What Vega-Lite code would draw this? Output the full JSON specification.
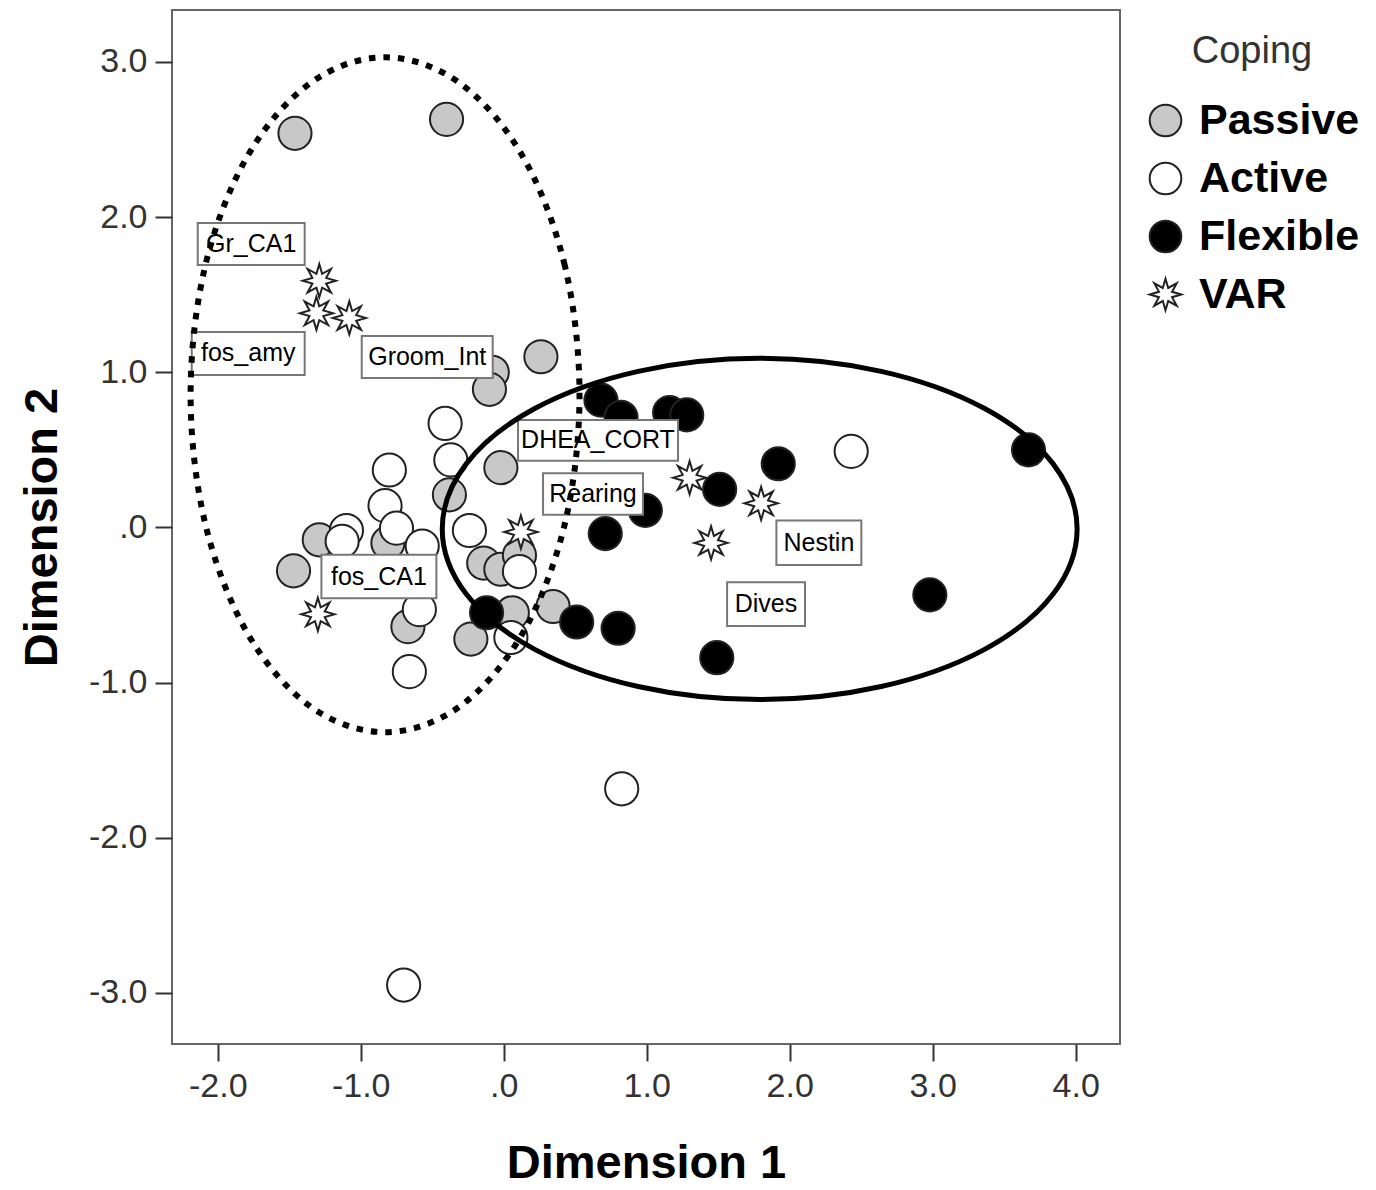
{
  "$schema": "https://vega.github.io/schema/vega-lite/v6.json",
  "width": 948,
  "height": 1034,
  "autosize": {"type": "none"},
  "padding": {"left": 172, "top": 10, "right": 256, "bottom": 146},
  "background": "white",
  "config": {
    "font": "Liberation Sans",
    "view": {"stroke": "#666", "strokeWidth": 2}
  },
  "datasets": {
    "pts": [
      {"x": -1.46, "y": 2.54, "c": "Passive"},
      {"x": -0.40, "y": 2.63, "c": "Passive"},
      {"x": 0.26, "y": 1.10, "c": "Passive"},
      {"x": -0.08, "y": 1.00, "c": "Passive"},
      {"x": -0.10, "y": 0.89, "c": "Passive"},
      {"x": -0.02, "y": 0.385, "c": "Passive"},
      {"x": -0.38, "y": 0.21, "c": "Passive"},
      {"x": -1.29, "y": -0.08, "c": "Passive"},
      {"x": -0.81, "y": -0.10, "c": "Passive"},
      {"x": -1.47, "y": -0.28, "c": "Passive"},
      {"x": -0.14, "y": -0.23, "c": "Passive"},
      {"x": -0.02, "y": -0.27, "c": "Passive"},
      {"x": 0.11, "y": -0.18, "c": "Passive"},
      {"x": 0.345, "y": -0.51, "c": "Passive"},
      {"x": 0.06, "y": -0.55, "c": "Passive"},
      {"x": -0.23, "y": -0.72, "c": "Passive"},
      {"x": -0.67, "y": -0.64, "c": "Passive"},
      {"x": -0.41, "y": 0.67, "c": "Active"},
      {"x": -0.37, "y": 0.435, "c": "Active"},
      {"x": -0.80, "y": 0.37, "c": "Active"},
      {"x": -0.83, "y": 0.14, "c": "Active"},
      {"x": -1.10, "y": -0.02, "c": "Active"},
      {"x": -1.13, "y": -0.09, "c": "Active"},
      {"x": -0.75, "y": -0.005, "c": "Active"},
      {"x": -0.57, "y": -0.12, "c": "Active"},
      {"x": -0.24, "y": -0.02, "c": "Active"},
      {"x": 0.11, "y": -0.285, "c": "Active"},
      {"x": -0.59, "y": -0.53, "c": "Active"},
      {"x": -0.66, "y": -0.93, "c": "Active"},
      {"x": 0.05, "y": -0.71, "c": "Active"},
      {"x": 0.825, "y": -1.685, "c": "Active"},
      {"x": -0.70, "y": -2.95, "c": "Active"},
      {"x": 2.43, "y": 0.49, "c": "Active"},
      {"x": 0.68, "y": 0.82, "c": "Flexible"},
      {"x": 0.82, "y": 0.71, "c": "Flexible"},
      {"x": 1.16, "y": 0.74, "c": "Flexible"},
      {"x": 1.28, "y": 0.725, "c": "Flexible"},
      {"x": 1.51, "y": 0.245, "c": "Flexible"},
      {"x": 0.99, "y": 0.11, "c": "Flexible"},
      {"x": 0.71, "y": -0.04, "c": "Flexible"},
      {"x": 0.51, "y": -0.61, "c": "Flexible"},
      {"x": 0.80, "y": -0.65, "c": "Flexible"},
      {"x": 1.49, "y": -0.84, "c": "Flexible"},
      {"x": 1.92, "y": 0.41, "c": "Flexible"},
      {"x": 3.67, "y": 0.50, "c": "Flexible"},
      {"x": 2.98, "y": -0.435, "c": "Flexible"},
      {"x": -0.12, "y": -0.55, "c": "Flexible"},
      {"x": -1.29, "y": 1.59, "c": "VAR"},
      {"x": -1.31, "y": 1.38, "c": "VAR"},
      {"x": -1.08, "y": 1.35, "c": "VAR"},
      {"x": -1.30, "y": -0.56, "c": "VAR"},
      {"x": 0.12, "y": -0.03, "c": "VAR"},
      {"x": 1.30, "y": 0.32, "c": "VAR"},
      {"x": 1.45, "y": -0.10, "c": "VAR"},
      {"x": 1.80, "y": 0.155, "c": "VAR"}
    ],
    "labels": [
      {"t": "Gr_CA1", "cx": -1.766, "cy": 1.827, "x1": -2.140, "x2": -1.392, "y1": 1.962, "y2": 1.691},
      {"t": "fos_amy", "cx": -1.787, "cy": 1.121, "x1": -2.182, "x2": -1.392, "y1": 1.260, "y2": 0.983},
      {"t": "Groom_Int", "cx": -0.535, "cy": 1.099, "x1": -0.993, "x2": -0.077, "y1": 1.234, "y2": 0.963},
      {"t": "DHEA_CORT", "cx": 0.659, "cy": 0.562, "x1": 0.100, "x2": 1.219, "y1": 0.693, "y2": 0.430},
      {"t": "Rearing", "cx": 0.624, "cy": 0.215, "x1": 0.275, "x2": 0.974, "y1": 0.349, "y2": 0.081},
      {"t": "fos_CA1", "cx": -0.873, "cy": -0.317, "x1": -1.275, "x2": -0.471, "y1": -0.177, "y2": -0.456},
      {"t": "Nestin", "cx": 2.204, "cy": -0.099, "x1": 1.907, "x2": 2.501, "y1": 0.044, "y2": -0.242},
      {"t": "Dives", "cx": 1.834, "cy": -0.494, "x1": 1.562, "x2": 2.107, "y1": -0.353, "y2": -0.635}
    ],
    "ell": [
      {"e": "dot", "x": 0.53, "y": 0.855},
      {"e": "dot", "x": 0.427, "y": 1.688},
      {"e": "dot", "x": 0.132, "y": 2.393},
      {"e": "dot", "x": -0.309, "y": 2.865},
      {"e": "dot", "x": -0.83, "y": 3.03},
      {"e": "dot", "x": -1.351, "y": 2.865},
      {"e": "dot", "x": -1.792, "y": 2.393},
      {"e": "dot", "x": -2.087, "y": 1.688},
      {"e": "dot", "x": -2.19, "y": 0.855},
      {"e": "dot", "x": -2.087, "y": 0.022},
      {"e": "dot", "x": -1.792, "y": -0.683},
      {"e": "dot", "x": -1.351, "y": -1.155},
      {"e": "dot", "x": -0.83, "y": -1.32},
      {"e": "dot", "x": -0.309, "y": -1.155},
      {"e": "dot", "x": 0.132, "y": -0.683},
      {"e": "dot", "x": 0.427, "y": 0.022},
      {"e": "sol", "x": 4.01, "y": -0.01},
      {"e": "sol", "x": 3.841, "y": 0.411},
      {"e": "sol", "x": 3.36, "y": 0.768},
      {"e": "sol", "x": 2.64, "y": 1.006},
      {"e": "sol", "x": 1.79, "y": 1.09},
      {"e": "sol", "x": 0.94, "y": 1.006},
      {"e": "sol", "x": 0.22, "y": 0.768},
      {"e": "sol", "x": -0.261, "y": 0.411},
      {"e": "sol", "x": -0.43, "y": -0.01},
      {"e": "sol", "x": -0.261, "y": -0.431},
      {"e": "sol", "x": 0.22, "y": -0.788},
      {"e": "sol", "x": 0.94, "y": -1.026},
      {"e": "sol", "x": 1.79, "y": -1.11},
      {"e": "sol", "x": 2.64, "y": -1.026},
      {"e": "sol", "x": 3.36, "y": -0.788},
      {"e": "sol", "x": 3.841, "y": -0.431}
    ]
  },
  "layer": [
    {
      "data": {"name": "pts"},
      "mark": {"type": "point", "filled": true, "size": 1100, "stroke": "#222", "strokeWidth": 2, "opacity": 1},
      "encoding": {
        "x": {"field": "x", "type": "quantitative", "title": "Dimension 1",
          "scale": {"domain": [-2.32, 4.31], "nice": false, "zero": false},
          "axis": {"values": [-2, -1, 0, 1, 2, 3, 4], "labelExpr": "datum.value == 0 ? '.0' : (datum.value < 0 ? '-' : '') + format(abs(datum.value), '.1f')", "grid": false, "domain": false, "tickSize": 17, "tickWidth": 2, "tickColor": "#333", "labelFontSize": 34, "labelColor": "#333", "labelPadding": 8, "labelFlush": false, "labelOverlap": false, "titleFontSize": 47, "titleFontWeight": "bold", "titleColor": "#000", "titlePadding": 37}},
        "y": {"field": "y", "type": "quantitative", "title": "Dimension 2",
          "scale": {"domain": [-3.33, 3.335], "nice": false, "zero": false},
          "axis": {"values": [-3, -2, -1, 0, 1, 2, 3], "labelExpr": "datum.value == 0 ? '.0' : (datum.value < 0 ? '-' : '') + format(abs(datum.value), '.1f')", "grid": false, "domain": false, "tickSize": 17, "tickWidth": 2, "tickColor": "#333", "labelFontSize": 34, "labelColor": "#333", "labelPadding": 8, "labelFlush": false, "labelOverlap": false, "titleFontSize": 47, "titleFontWeight": "bold", "titleColor": "#000", "titlePadding": 22}},
        "color": {"field": "c", "type": "nominal", "title": "Coping",
          "scale": {"domain": ["Passive", "Active", "Flexible", "VAR"], "range": ["#c8c8c8", "#ffffff", "#000000", "#ffffff"]},
          "legend": {"orient": "none", "legendX": 972, "legendY": 23, "padding": 0, "titleAnchor": "middle", "titleFontSize": 38, "titleFontWeight": "normal", "titleColor": "#333", "titlePadding": 28, "labelFontSize": 43, "labelFontWeight": "bold", "labelColor": "#000", "labelOffset": 12, "labelLimit": 400, "rowPadding": 14, "symbolSize": 1000, "symbolStrokeColor": "#222", "symbolStrokeWidth": 2, "symbolOpacity": 1}},
        "shape": {"field": "c", "type": "nominal", "title": "Coping",
          "scale": {"domain": ["Passive", "Active", "Flexible", "VAR"], "range": ["circle", "circle", "circle", "M1,0L0.416,0.172L0.707,0.707L0.172,0.416L0,1L-0.172,0.416L-0.707,0.707L-0.416,0.172L-1,0L-0.416,-0.172L-0.707,-0.707L-0.172,-0.416L0,-1L0.172,-0.416L0.707,-0.707L0.416,-0.172Z"]}}
      }
    },
    {
      "data": {"name": "labels"},
      "mark": {"type": "rect", "fill": "white", "stroke": "#777", "strokeWidth": 2},
      "encoding": {
        "x": {"field": "x1", "type": "quantitative", "title": "Dimension 1", "scale": {"domain": [-2.32, 4.31], "nice": false, "zero": false}},
        "x2": {"field": "x2"},
        "y": {"field": "y1", "type": "quantitative", "title": "Dimension 2", "scale": {"domain": [-3.33, 3.335], "nice": false, "zero": false}},
        "y2": {"field": "y2"}
      }
    },
    {
      "data": {"name": "labels"},
      "mark": {"type": "text", "fontSize": 25, "color": "#000", "align": "center", "baseline": "middle"},
      "encoding": {
        "x": {"field": "cx", "type": "quantitative", "title": "Dimension 1", "scale": {"domain": [-2.32, 4.31], "nice": false, "zero": false}},
        "y": {"field": "cy", "type": "quantitative", "title": "Dimension 2", "scale": {"domain": [-3.33, 3.335], "nice": false, "zero": false}},
        "text": {"field": "t"}
      }
    },
    {
      "data": {"name": "ell"},
      "transform": [{"filter": "datum.e == 'sol'"}],
      "mark": {"type": "line", "interpolate": "cardinal-closed", "color": "#000", "strokeWidth": 5},
      "encoding": {
        "x": {"field": "x", "type": "quantitative", "title": "Dimension 1", "scale": {"domain": [-2.32, 4.31], "nice": false, "zero": false}},
        "y": {"field": "y", "type": "quantitative", "title": "Dimension 2", "scale": {"domain": [-3.33, 3.335], "nice": false, "zero": false}},
        "order": {"value": null}
      }
    },
    {
      "data": {"name": "ell"},
      "transform": [{"filter": "datum.e == 'dot'"}],
      "mark": {"type": "line", "interpolate": "cardinal-closed", "color": "#000", "strokeWidth": 6, "strokeDash": [6.5, 8], "strokeCap": "butt"},
      "encoding": {
        "x": {"field": "x", "type": "quantitative", "title": "Dimension 1", "scale": {"domain": [-2.32, 4.31], "nice": false, "zero": false}},
        "y": {"field": "y", "type": "quantitative", "title": "Dimension 2", "scale": {"domain": [-3.33, 3.335], "nice": false, "zero": false}},
        "order": {"value": null}
      }
    }
  ]
}
